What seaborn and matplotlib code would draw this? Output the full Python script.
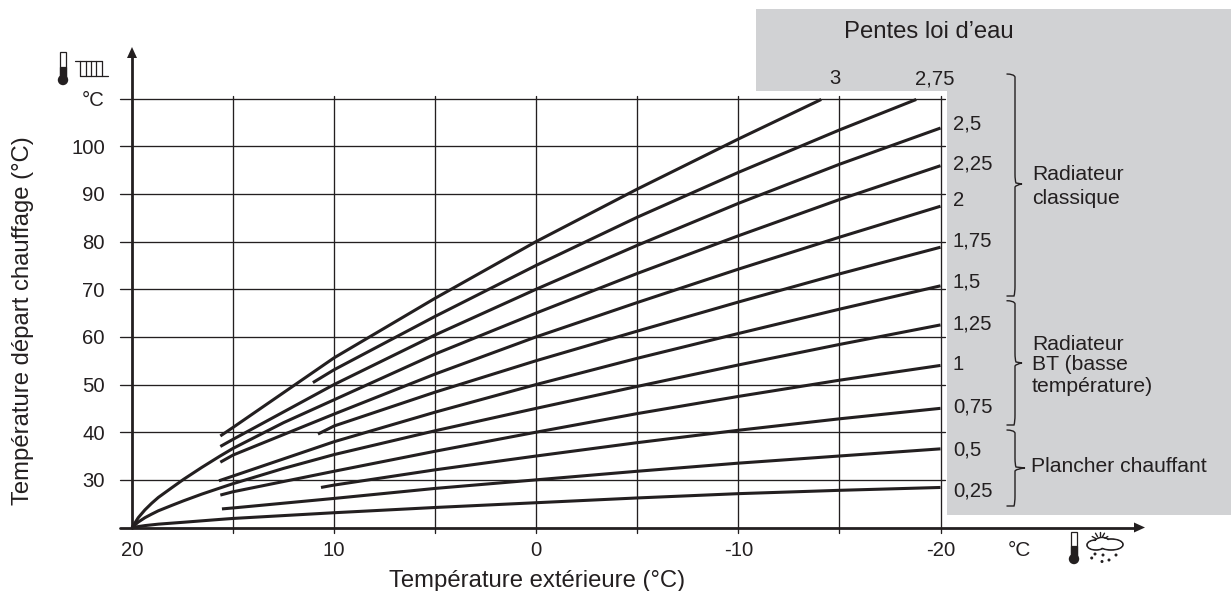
import matplotlib
matplotlib.use("Agg")
import matplotlib.pyplot as plt
import numpy as np
import pandas as pd
import seaborn as sns
from matplotlib.path import Path
from matplotlib.patches import PathPatch, Polygon, Circle, Rectangle, Ellipse
from matplotlib.transforms import Affine2D

# ---- data ----
T_025 = [20, 19.36, 18.7, 17.45, 15.64, 15, 10, 5, 0, -5, -10, -15, -20]
V_025 = [20, 20.4, 20.7, 21.1, 21.7, 21.9, 23.1, 24.2, 25.2, 26.2, 27.1, 27.8, 28.4]
T_050 = [15.55, 15, 10, 5, 0, -5, -10, -15, -20]
V_050 = [23.9, 24.1, 26.1, 28.2, 30, 31.8, 33.5, 35, 36.5]
T_075 = [10.65, 10, 5, 0, -5, -10, -15, -20]
V_075 = [28.4, 28.9, 32.1, 35, 37.8, 40.4, 42.8, 45]
T_100 = [15.63, 15, 10, 5, 0, -5, -10, -15, -20]
V_100 = [26.8, 27.5, 31.8, 36, 40, 43.9, 47.5, 50.9, 54]
T_125 = [20, 19.69, 19.36, 19.03, 18.7, 18.03, 17.45, 16.55, 15.64, 15, 12.5, 10, 5, 0, -5, -10, -15, -20]
V_125 = [20, 21.14, 22.06, 22.8, 23.5, 24.64, 25.6, 27, 28.3, 29.2, 32.4, 35.3, 40.3, 45, 49.6, 54.1, 58.4, 62.5]
T_150 = [15.7, 15, 10, 5, 0, -5, -10, -15, -20]
V_150 = [29.8, 30.8, 38, 44.2, 50, 55.5, 60.7, 65.8, 70.7]
T_175 = [10.8, 10, 5, 0, -5, -10, -15, -20]
V_175 = [39.6, 41.3, 48.4, 55, 61.2, 67.3, 73.2, 78.8]
T_200 = [15.63, 15, 10, 5, 0, -5, -10, -15, -20]
V_200 = [33.7, 35.2, 43.8, 52.2, 60, 67.2, 74.2, 80.9, 87.4]
T_225 = [20, 19.69, 19.36, 19.03, 18.7, 18.03, 17.45, 16.55, 15.64, 15, 12.5, 10, 5, 0, -5, -10, -15, -20]
V_225 = [20, 22.06, 23.7, 25.07, 26.3, 28.35, 30.1, 32.6, 35, 36.6, 42, 46.8, 56.4, 65, 73.3, 81.2, 88.8, 95.9]
T_250 = [15.63, 15, 10, 5, 0, -5, -10, -15, -20]
V_250 = [37, 38.5, 50, 60.4, 70, 79.2, 88, 96.2, 103.8]
T_275 = [11.05, 10, 5, 0, -5, -10, -15, -18.8]
V_275 = [50.4, 53.1, 64.3, 75, 85.1, 94.5, 103.4, 109.8]
T_300 = [15.63, 15, 10, 5, 0, -5, -10, -14.1]
V_300 = [39.2, 41, 55.6, 68.1, 80, 91, 101.5, 109.8]

SLOPES = ["0,25", "0,5", "0,75", "1", "1,25", "1,5", "1,75", "2", "2,25", "2,5", "2,75", "3"]
ALL_T = [T_025, T_050, T_075, T_100, T_125, T_150, T_175, T_200, T_225, T_250, T_275, T_300]
ALL_V = [V_025, V_050, V_075, V_100, V_125, V_150, V_175, V_200, V_225, V_250, V_275, V_300]

X_TICKS = [20, 10, 0, -10, -20]
X_LABELS = ["20", "10", "0", "-10", "-20"]
X_GRID = [15, 10, 5, 0, -5, -10, -15, -20]
Y_TICKS = [30, 40, 50, 60, 70, 80, 90, 100, 110]
Y_LABELS = ["30", "40", "50", "60", "70", "80", "90", "100", "°C"]
SLOPE_LABEL_Y = {"2,5": 123, "2,25": 163, "2": 200, "1,75": 240, "1,5": 281,
                 "1,25": 323, "1": 364, "0,75": 406, "0,5": 449, "0,25": 490}

INK = "#231f20"
GREY = "#d1d2d4"
W, H = 1231, 591
FS = 14.6
FS_BIG = 17.2

sns.set_theme(style="white")
plt.rcParams["font.family"] = ["Liberation Sans", "DejaVu Sans"]
plt.rcParams["text.color"] = INK

fig = plt.figure(figsize=(W / 100, H / 100), dpi=100, facecolor="white")
L, R, B, TOP = 132.0, 940.5, 527.5, 98.5
ax = fig.add_axes([L / W, 1 - B / H, (R - L) / W, (B - TOP) / H])
ax.patch.set_alpha(0)
PX = Affine2D().scale(1, -1).translate(0, H)

# grey L-shaped panel
fig.add_artist(Polygon([(756, 8.5), (W, 8.5), (W, 515), (947, 515), (947, 90.7), (756, 90.7)],
                       closed=True, fc=GREY, ec="none", transform=PX, zorder=0))

df = pd.concat([pd.DataFrame({"T": t, "V": v, "pente": s})
                for t, v, s in zip(ALL_T, ALL_V, SLOPES)], ignore_index=True)
sns.lineplot(data=df, x="T", y="V", hue="pente", palette=[INK] * len(SLOPES), legend=False,
             estimator=None, linewidth=2.2, ax=ax, zorder=4, clip_on=False)
for ln in ax.lines:
    ln.set_solid_capstyle("butt")
ax.set_xlim(20, -20)
ax.set_ylim(20, 110)
ax.set_xlabel("")
ax.set_ylabel("")
for s in ax.spines.values():
    s.set_visible(False)

ax.set_xticks(X_TICKS)
ax.set_xticklabels(X_LABELS, fontsize=FS, color=INK)
ax.set_yticks(Y_TICKS)
ax.set_yticklabels(Y_LABELS, fontsize=FS, color=INK)
ax.tick_params(axis="x", length=0, pad=10)
ax.tick_params(axis="y", length=0, pad=19.5)
for xv in X_GRID:
    px = L + (20 - xv) / 40 * (R - L)
    fig.add_artist(plt.Line2D([px, px], [96, 533], color=INK, lw=0.95, transform=PX, zorder=1))
for yv in Y_TICKS:
    py = B - (yv - 20) / 90 * (B - TOP)
    fig.add_artist(plt.Line2D([120, 945], [py, py], color=INK, lw=0.95, transform=PX, zorder=1))

# axes with arrow heads
fig.add_artist(plt.Line2D([132, 132], [527.5, 55], color=INK, lw=2.0, transform=PX, zorder=5))
fig.add_artist(plt.Line2D([120, 1135], [527.5, 527.5], color=INK, lw=2.0, transform=PX, zorder=5))
fig.add_artist(Polygon([(132, 47), (127, 58), (137, 58)], fc=INK, ec="none", transform=PX, zorder=5))
fig.add_artist(Polygon([(1145, 527.5), (1134, 522.5), (1134, 532.5)], fc=INK, ec="none", transform=PX, zorder=5))


def label(x, y, s, ha="left", va="center", **kw):
    fig.text(x, y + 1, s, transform=PX, ha=ha, va=va, fontsize=kw.pop("fontsize", FS), color=INK, **kw)


label(537, 580, "Température extérieure (°C)", ha="center", fontsize=FS_BIG)
label(23, 320, "Température départ chauffage (°C)", ha="center", rotation=90, fontsize=FS_BIG)
label(929, 31, "Pentes loi d’eau", ha="center", fontsize=FS_BIG)
label(835, 78, "3", ha="center")
label(935, 78, "2,75", ha="center")
for name, py in SLOPE_LABEL_Y.items():
    label(953, py, name)
label(1032, 174, "Radiateur", fontsize=15.2)
label(1032, 197, "classique", fontsize=15.2)
label(1032, 343, "Radiateur", fontsize=15.2)
label(1032, 364, "BT (basse", fontsize=15.2)
label(1032, 385, "température)", fontsize=15.2)
label(1031, 465, "Plancher chauffant", fontsize=15.2)
label(1019, 549, "°C", ha="center", fontsize=15)


def brace(xh, xs, xt, y0, ym, y1):
    verts = [(xh, y0), (xs - 1, y0), (xs, y0 + 3), (xs, y0 + 10), (xs, ym - 10),
             (xs, ym - 3), (xs + 1, ym - 1), (xt, ym),
             (xs + 1, ym + 1), (xs, ym + 3), (xs, ym + 10), (xs, y1 - 10),
             (xs, y1 - 3), (xs - 1, y1), (xh, y1)]
    codes = [Path.MOVETO, Path.CURVE3, Path.CURVE3, Path.LINETO, Path.LINETO,
             Path.CURVE3, Path.CURVE3, Path.LINETO,
             Path.CURVE3, Path.CURVE3, Path.LINETO, Path.LINETO,
             Path.CURVE3, Path.CURVE3, Path.LINETO]
    fig.add_artist(PathPatch(Path(verts, codes), fc="none", ec=INK, lw=1.0, transform=PX, zorder=3))


brace(1006.5, 1015, 1022, 74, 184, 296)
brace(1006.5, 1015, 1022, 300.7, 363, 425)
brace(1006.5, 1015, 1025, 430, 468, 506)


def thermometer(cx, top, bottom):
    fig.add_artist(Rectangle((cx - 3, top), 6, bottom - top - 5, fc="white", ec=INK, lw=0.9, transform=PX, zorder=5))
    fig.add_artist(Rectangle((cx - 3, (top + bottom) / 2 - 2), 6, (bottom - top) / 2 - 3, fc=INK, ec=INK, lw=0.9, transform=PX, zorder=5))
    fig.add_artist(Circle((cx, bottom - 5), 5.2, fc=INK, ec="none", transform=PX, zorder=5))


thermometer(63, 52, 85)
thermometer(1074, 532, 564)

# radiator glyph
fig.add_artist(plt.Line2D([75, 101.5], [60.7, 60.7], color=INK, lw=0.9, transform=PX))
fig.add_artist(plt.Line2D([80, 108], [75.7, 75.7], color=INK, lw=0.9, transform=PX))
for px in [80, 85.5, 91, 96, 101.5]:
    fig.add_artist(plt.Line2D([px, px], [60.7, 75.7], color=INK, lw=0.9, transform=PX))

# cloud glyph
CLOUD = [(1096, 545, 18, 10), (1111, 544.5, 24, 11), (1102, 541.5, 14, 8)]
for (cx, cy, w, h) in CLOUD:
    fig.add_artist(Ellipse((cx, cy), w, h, fc="white", ec=INK, lw=1.2, transform=PX, zorder=5))
for (cx, cy, w, h) in CLOUD:
    fig.add_artist(Ellipse((cx, cy), w - 2, h - 2, fc="white", ec="none", transform=PX, zorder=6))
for a in [-60, -30, 0, 30, 60]:
    r = np.radians(a)
    fig.add_artist(plt.Line2D([1100 + 5 * np.sin(r), 1100 + 9 * np.sin(r)],
                              [541 - 5 * np.cos(r), 541 - 9 * np.cos(r)],
                              color=INK, lw=1.0, transform=PX, zorder=5))
for (cx, cy) in [(1091.7, 558), (1095, 554), (1103, 555), (1102, 561.5), (1116, 555), (1109, 560)]:
    fig.add_artist(Circle((cx, cy), 1.5, fc=INK, ec="none", transform=PX, zorder=5))

fig.savefig("out.png", dpi=100, facecolor="white")
